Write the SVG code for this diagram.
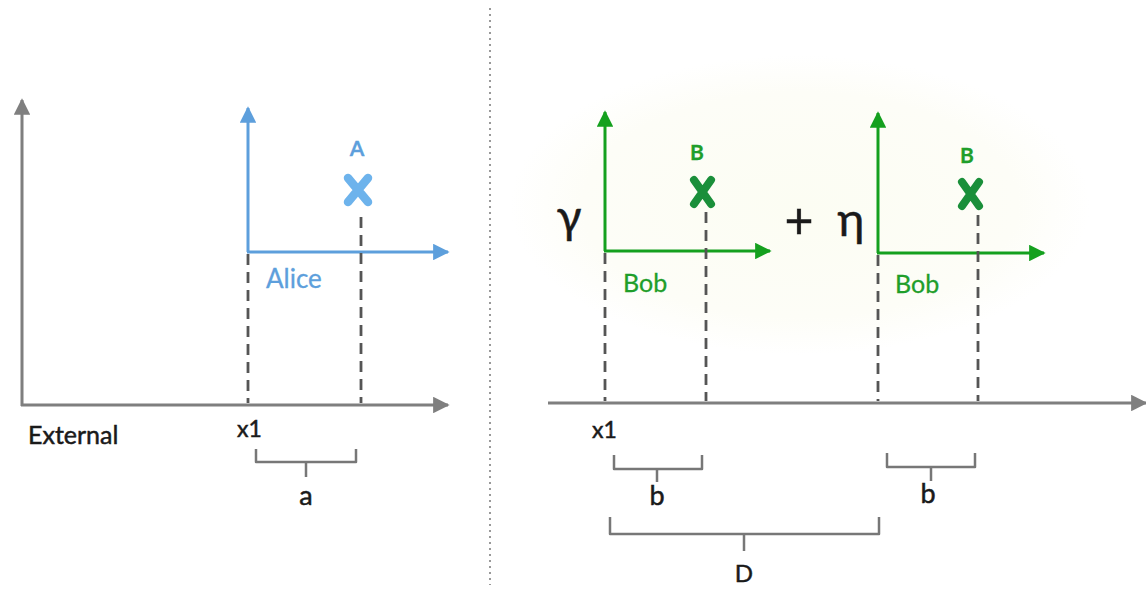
<svg xmlns="http://www.w3.org/2000/svg" width="1146" height="589" viewBox="0 0 1146 589">
<defs>
<marker id="ag" viewBox="0 0 10 10" refX="9" refY="5" markerWidth="5.5" markerHeight="5.5" orient="auto" markerUnits="strokeWidth"><path d="M0,0 L10,5 L0,10 z" fill="#7f7f7f"/></marker>
<marker id="ab" viewBox="0 0 10 10" refX="9" refY="5" markerWidth="5.5" markerHeight="5.5" orient="auto" markerUnits="strokeWidth"><path d="M0,0 L10,5 L0,10 z" fill="#5d9fdc"/></marker>
<marker id="agr" viewBox="0 0 10 10" refX="9" refY="5" markerWidth="5.5" markerHeight="5.5" orient="auto" markerUnits="strokeWidth"><path d="M0,0 L10,5 L0,10 z" fill="#14a01e"/></marker>
<radialGradient id="glow" cx="0.5" cy="0.5" r="0.5">
<stop offset="0" stop-color="#fcfdf3"/><stop offset="0.75" stop-color="#fdfdf7"/><stop offset="1" stop-color="#ffffff"/>
</radialGradient>
</defs>
<style>
.ax{stroke:#7f7f7f;stroke-width:3;fill:none}
.bl{stroke:#5d9fdc;stroke-width:3;fill:none}
.gr{stroke:#14a01e;stroke-width:3;fill:none}
.dash{stroke:#555;stroke-width:2.8;stroke-dasharray:11 7;fill:none}
.br{stroke:#777;stroke-width:2.5;fill:none;stroke-linejoin:round}
.t{font-family:Lato,"Liberation Sans",sans-serif;fill:#1a1a1a;stroke:#1a1a1a;stroke-width:0.5}
.tb{font-family:Lato,"Liberation Sans",sans-serif;fill:#5d9fdc;stroke:#5d9fdc;stroke-width:0.3}
.tg{font-family:Lato,"Liberation Sans",sans-serif;fill:#1f9e2a;stroke:#1f9e2a;stroke-width:0.3}
.xb{stroke:#6db3ec;stroke-width:8.5;stroke-linecap:round}
.xg{stroke:#1a8f3a;stroke-width:8;stroke-linecap:round}
</style>
<rect width="1146" height="589" fill="#ffffff"/>
<ellipse cx="800" cy="205" rx="290" ry="150" fill="url(#glow)"/>
<line x1="490" y1="8" x2="490" y2="585" stroke="#999" stroke-width="2" stroke-dasharray="2 4"/>

<g id="connectors">
<line class="ax" x1="22" y1="406" x2="22" y2="100" marker-end="url(#ag)"/>
<line class="ax" x1="21" y1="405" x2="448" y2="405" marker-end="url(#ag)"/>
<line class="bl" x1="248" y1="252" x2="248" y2="108" marker-end="url(#ab)"/>
<line class="bl" x1="247" y1="252" x2="448" y2="252" marker-end="url(#ab)"/>
<line class="dash" x1="248" y1="254" x2="248" y2="403"/>
<line class="dash" x1="361" y1="217" x2="361" y2="403"/>

<line class="ax" x1="548" y1="403" x2="1146" y2="403" marker-end="url(#ag)"/>
<line class="gr" x1="605" y1="251" x2="605" y2="112" marker-end="url(#agr)"/>
<line class="gr" x1="604" y1="251" x2="770" y2="251" marker-end="url(#agr)"/>
<line class="dash" x1="605" y1="253" x2="605" y2="401"/>
<line class="dash" x1="706" y1="212" x2="706" y2="401"/>
<line class="gr" x1="878" y1="253" x2="878" y2="113" marker-end="url(#agr)"/>
<line class="gr" x1="877" y1="253" x2="1044" y2="253" marker-end="url(#agr)"/>
<line class="dash" x1="878" y1="255" x2="878" y2="401"/>
<line class="dash" x1="978" y1="215" x2="978" y2="401"/>

<path class="br" d="M256,449 V462 H356 V449 M306,462 V477"/>
<path class="br" d="M614,455 V469 H702 V455 M657,469 V482"/>
<path class="br" d="M887,453 V467 H975 V453 M931,467 V481"/>
<path class="br" d="M610,517 V534 H879 V517 M744,534 V551"/>
</g>

<g id="external">
<text class="t" x="28" y="444" font-size="25">External</text>
<text class="t" x="237" y="437" font-size="23">x1</text>
<text class="t" x="306" y="505" font-size="27" text-anchor="middle">a</text>
</g>

<g id="alice">
<text class="tb" x="266" y="288" font-size="26">Alice</text>
<text class="tb" x="357" y="156" font-size="21" font-weight="bold" text-anchor="middle">A</text>
<path class="xb" d="M348,178 L368,202 M368,178 L348,202"/>
</g>

<g id="bob1">
<text class="t" x="569" y="233" font-size="46" text-anchor="middle">γ</text>
<text class="tg" x="623" y="292" font-size="25">Bob</text>
<text class="tg" x="697" y="160" font-size="21" font-weight="bold" text-anchor="middle">B</text>
<path class="xg" d="M694,180 L711,204 M711,180 L694,204"/>
</g>

<g id="plus">
<text class="t" x="799" y="238" font-size="50" text-anchor="middle" stroke-width="1.2">+</text>
</g>

<g id="bob2">
<text class="t" x="851" y="236" font-size="46" text-anchor="middle">η</text>
<text class="tg" x="895" y="293" font-size="25">Bob</text>
<text class="tg" x="967" y="163" font-size="21" font-weight="bold" text-anchor="middle">B</text>
<path class="xg" d="M962,182 L979,206 M979,182 L962,206"/>
</g>

<g id="labels-right">
<text class="t" x="592" y="438" font-size="23">x1</text>
<text class="t" x="657" y="505" font-size="27" text-anchor="middle">b</text>
<text class="t" x="928" y="503" font-size="27" text-anchor="middle">b</text>
<text class="t" x="744" y="582" font-size="24" text-anchor="middle">D</text>
</g>
</svg>
